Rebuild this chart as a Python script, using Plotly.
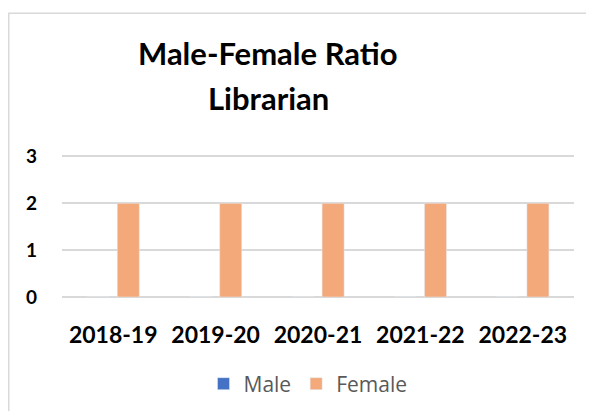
import plotly.graph_objects as go

# ==========================================
# DATA
# ==========================================

years = ["2018-19", "2019-20", "2020-21", "2021-22", "2022-23"]

male = [0, 0, 0, 0, 0]

female = [2, 2, 2, 2, 2]

y_ticks = [0, 1, 2, 3]

# ==========================================
# FIGURE
# ==========================================

# page body has an 8px margin, so the figure starts at (8, 8)
OFF = 8

W, H = 594 - 2 * OFF, 419 - 2 * OFF

Y_TOP = 3.03

# plot area in page pixels (value 3 sits at y=156)
L, R, B = 62, 574, 297
UNIT = (297 - 156) / 3
T = B - Y_TOP * UNIT

fig = go.Figure()

fig.add_trace(
    go.Bar(
        x=years,
        y=male,
        name="Male",
        marker_color="#4472C4"
    )
)

fig.add_trace(
    go.Bar(
        x=years,
        y=female,
        name="Female",
        marker_color="#F4A97A"
    )
)

pw = R - L
ph = B - T


def px_x(v):
    return (v - L) / pw


def px_y(v):
    return (B - v) / ph


title_font = dict(family="Lato", size=31, color="black")

fig.update_layout(
    width=W,
    height=H,
    margin=dict(
        l=L - OFF,
        r=W - (R - OFF),
        t=T - OFF,
        b=H - (B - OFF),
        pad=0
    ),
    paper_bgcolor="white",
    plot_bgcolor="white",
    barmode="group",
    bargap=0.41,
    bargroupgap=0.27,
    showlegend=True,
    legend=dict(
        orientation="h",
        xref="container",
        yref="container",
        x=(308 - OFF) / W,
        xanchor="center",
        y=1 - (384 - OFF) / H,
        yanchor="middle",
        font=dict(family="Open Sans", size=21, color="#595959"),
        itemwidth=30,
        traceorder="normal"
    ),
    font=dict(family="Lato", color="black"),
    annotations=[
        dict(
            text="<b>Male-Female Ratio</b>",
            x=px_x(268),
            y=px_y(52),
            xref="paper",
            yref="paper",
            xanchor="center",
            yanchor="middle",
            showarrow=False,
            font=title_font
        ),
        dict(
            text="<b>Librarian</b>",
            x=px_x(268),
            y=px_y(97),
            xref="paper",
            yref="paper",
            xanchor="center",
            yanchor="middle",
            showarrow=False,
            font=title_font
        )
    ],
    shapes=[
        dict(
            type="rect",
            xref="paper",
            yref="paper",
            x0=px_x(OFF + 0.75),
            x1=px_x(640),
            y0=px_y(460),
            y1=px_y(12.5),
            line=dict(color="#D9D9D9", width=1.5),
            fillcolor="rgba(0,0,0,0)",
            layer="below"
        )
    ]
)

fig.update_xaxes(
    automargin=False,
    showgrid=False,
    showline=False,
    zeroline=False,
    ticks="",
    ticklabelstandoff=22,
    tickfont=dict(family="Lato", size=23, color="black", weight="bold")
)

fig.update_yaxes(
    automargin=False,
    range=[0, Y_TOP],
    tickvals=y_ticks,
    showgrid=True,
    gridcolor="#D9D9D9",
    gridwidth=1.5,
    zeroline=True,
    zerolinecolor="#D9D9D9",
    zerolinewidth=1.5,
    showline=False,
    ticks="",
    ticklabelstandoff=24,
    tickfont=dict(family="Lato", size=19, color="black", weight="bold")
)

fig.write_html("out.html")
